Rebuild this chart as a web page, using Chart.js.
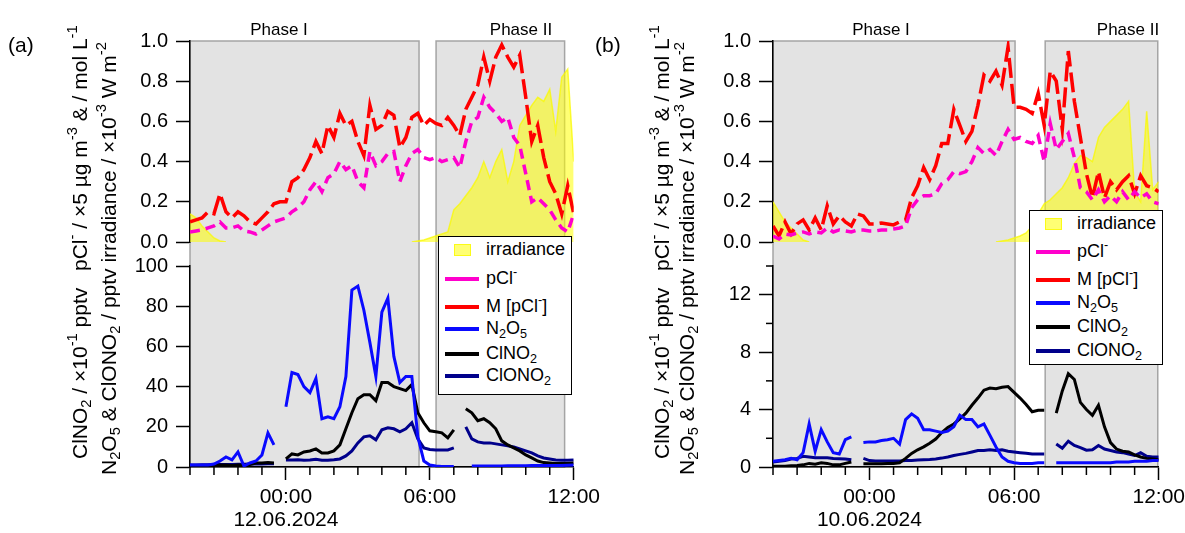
<!DOCTYPE html>
<html lang="en">
<head>
<meta charset="UTF-8">
<title>pCl, N2O5, ClNO2, ClONO2 time series</title>
<script src="https://cdn.jsdelivr.net/npm/chart.js"></script>
<style>
    body {
        margin: 0;
        width: 1185px;
        height: 533px;
        overflow: hidden;
        background: #fff;
        font-family: 'Liberation Sans', Arial, sans-serif;
        color: #000;
    }
    #wrap { position: relative; width: 1185px; height: 533px; overflow: hidden; }
    canvas { position: absolute; top: 0; }
    .txt { position: absolute; white-space: nowrap; }
    .rot {
        position: absolute;
        white-space: nowrap;
        font-size: 21px;
        line-height: 24px;
        transform-origin: 0 0;
        transform: rotate(-90deg);
    }
    sup { font-size: 0.7em; vertical-align: 0.65em; line-height: 0; }
    sub { font-size: 0.7em; vertical-align: -0.3em; line-height: 0; }
    .phase { font-size: 17px; line-height: 20px; transform: translateX(-50%); }
    .panel { font-size: 21px; line-height: 24px; }
    .legend {
        position: absolute;
        background: #fff;
        border: 1.5px solid #000;
        box-sizing: border-box;
        font-size: 18px;
    }
    .legend .row { position: absolute; height: 22px; line-height: 22px; white-space: nowrap; }
    .legend .mark { position: absolute; }
</style>
</head>
<body>
<div id="wrap">
    <canvas id="chartA" width="605" height="533" style="left:0"></canvas>
    <canvas id="chartB" width="600" height="533" style="left:590px"></canvas>
</div>

<script>
    // time axis: hours relative to 00:00 of the measurement day
    const hours = [-4, -3.75, -3.5, -3.25, -3, -2.75, -2.5, -2.25, -2, -1.75, -1.5, -1.25, -1, -0.75, -0.5, -0.25,
        0, 0.25, 0.5, 0.75, 1, 1.25, 1.5, 1.75, 2, 2.25, 2.5, 2.75, 3, 3.25, 3.5, 3.75,
        4, 4.25, 4.5, 4.75, 5, 5.25, 5.5, 5.75, 6, 6.25, 6.5, 6.75, 7, 7.25, 7.5, 7.75,
        8, 8.25, 8.5, 8.75, 9, 9.25, 9.5, 9.75, 10, 10.25, 10.5, 10.75, 11, 11.25, 11.5, 11.75, 12];

    // ---- panel (a), 12.06.2024 ----
    const aPcl = [0.05, 0.055, 0.06, 0.07, 0.08, 0.10, 0.07, 0.07, 0.08, 0.055,
        0.05, 0.04, 0.06, 0.08, 0.10, 0.11, 0.12, 0.15, 0.17, 0.20,
        0.26, 0.30, 0.25, 0.32, 0.34, 0.40, 0.36, 0.38, 0.30, 0.27,
        0.45, 0.38, 0.40, 0.44, 0.45, 0.30, 0.38, 0.44, 0.46, 0.42,
        0.41, 0.42, 0.40, 0.41, 0.42, 0.37, 0.50, 0.60, 0.62, 0.72,
        0.67, 0.64, 0.60, 0.62, 0.52, 0.48, 0.34, 0.20, 0.22, 0.19,
        0.16, 0.11, 0.07, 0.05, 0.14];
    const aMPcl = [0.10, 0.11, 0.12, 0.15, 0.14, 0.24, 0.15, 0.12, 0.15, 0.13,
        0.10, 0.09, 0.12, 0.15, 0.19, 0.20, 0.20, 0.30, 0.32, 0.36,
        0.42, 0.50, 0.44, 0.58, 0.52, 0.64, 0.58, 0.60, 0.50, 0.43,
        0.68, 0.56, 0.58, 0.65, 0.63, 0.47, 0.52, 0.62, 0.64, 0.58,
        0.61, 0.59, 0.58, 0.62, 0.58, 0.53, 0.66, 0.72, 0.78, 0.92,
        0.80, 0.92, 0.98, 0.92, 0.87, 0.93, 0.72, 0.50, 0.58, 0.42,
        0.30, 0.24, 0.14, 0.28, 0.14];
    const aIrr = [0.14, 0.12, 0.08, 0.05, 0.02, 0.005, 0,
        null, null, null, null, null, null, null, null, null, null,
        null, null, null, null, null, null, null, null, null, null,
        null, null, null, null, null, null, null, null, null, null,
        0, 0.005, 0.01, 0.02, 0.03, 0.04, 0.05, 0.16, 0.19, 0.23,
        0.27, 0.32, 0.40, 0.32, 0.40, 0.46, 0.30, 0.40, 0.58, 0.63,
        0.68, 0.72, 0.70, 0.76, 0.55, 0.82, 0.86, 0.40];
    const aN2O5 = [1, 1, 1, 1, 1.5, 3, 5, 3.5, 7.5, 0.5,
        2, 3, 6, 17, 11, null, 30, 47, 46, 40,
        37, 44, 24, 25, 24, 30, 45, 88, 90, 78,
        62, 45, 77, 84, 55, 42, 45, 45, 15, 3,
        1, 0.5, 0.3, 0.3, 0.3, null, null, 0.5, 0.5, 0.5,
        0.5, 0.5, 0.5, 0.6, 0.6, 0.6, 0.6, 0.7, 0.7, 0.7,
        0.8, 0.8, 0.8, 0.9, 1.0];
    const aClNO2 = [0.8, 0.8, 0.7, 0.8, 0.9, 1.0, 1.0, 0.8, 1.0, 1.0,
        1.2, 2, 2, 2.2, 2, null, 4, 6.5, 6, 7.5,
        8, 9, 7, 7, 8, 11, 19, 27, 34, 36,
        36, 33, 42, 42, 40, 39, 38, 41, 27, 22,
        18, 17.5, 17, 14.5, 18.5, null, 29, 27, 23, 24,
        22, 19, 13, 11, 9.5, 8, 6, 4.5, 3, 2.2,
        2, 1.7, 1.7, 1.8, 2];
    const aClONO2 = [1.0, 1.0, 1.1, 1.1, 1.2, 1.2, 1.3, 1.3, 1.4, 1.4,
        1.5, 1.5, 1.5, 1.6, 1.6, null, 3.5, 3.5, 3.6, 3.4,
        3.5, 3.8, 3.4, 3.3, 3.6, 4, 5.5, 8, 12, 15,
        15.5, 13.5, 18.5, 19.5, 19, 17.5, 19, 22, 14, 9.5,
        8.7, 8.5, 8.5, 8.5, 9.5, null, 20, 14, 12.5, 12,
        12, 11.5, 11, 10.5, 10, 9, 8, 7, 5.5, 4.5,
        4, 3.5, 3.3, 3.3, 3.5];
    const aPhases = [[-4, 5.55], [6.26, 11.62]];

    // ---- panel (b), 10.06.2024 ----
    const bPcl = [0.03, 0.015, 0.04, 0.035, 0.045, 0.05, 0.04, 0.05, 0.045, 0.07,
        0.05, 0.06, 0.055, 0.05, 0.06, 0.06, 0.055, 0.055, 0.06, 0.06,
        0.065, 0.07, 0.08, 0.17, 0.21, 0.23, 0.23, 0.24, 0.29, 0.31,
        0.35, 0.34, 0.35, 0.40, 0.47, 0.44, 0.46, 0.43, 0.50, 0.56,
        0.51, 0.52, 0.50, 0.49, 0.53, 0.40, 0.59, 0.46, 0.50, 0.54,
        0.42, 0.27, 0.25, 0.21, 0.26, 0.20, 0.23, 0.20, 0.25, 0.21,
        0.25, 0.22, 0.24, 0.20, 0.19];
    const bMPcl = [0.08, 0.03, 0.10, 0.04, 0.09, 0.11, 0.06, 0.12, 0.06, 0.18,
        0.09, 0.13, 0.10, 0.08, 0.14, 0.13, 0.09, 0.09, 0.095, 0.09,
        0.085, 0.10, 0.11, 0.22, 0.28, 0.37, 0.31, 0.38, 0.49, 0.49,
        0.66, 0.58, 0.50, 0.55, 0.68, 0.83, 0.80, 0.85, 0.78, 0.97,
        0.67, 0.67, 0.66, 0.64, 0.74, 0.58, 0.85, 0.80, 0.56, 0.95,
        0.70, 0.52, 0.34, 0.22, 0.35, 0.22, 0.30, 0.26, 0.30, 0.33,
        0.24, 0.33, 0.28, 0.27, 0.25];
    const bIrr = [0.20, 0.15, 0.10, 0.07, 0.04, 0.01, 0,
        null, null, null, null, null, null, null, null, null, null,
        null, null, null, null, null, null, null, null, null, null,
        null, null, null, null, null, null, null, null, null, null,
        0, 0.005, 0.01, 0.02, 0.03, 0.045, 0.08, 0.14, 0.19, 0.21,
        0.24, 0.27, 0.32, 0.39, 0.43, 0.42, 0.40, 0.52, 0.57, 0.60,
        0.63, 0.66, 0.70, 0.25, 0.20, 0.65, 0.26, 0.30];
    const bN2O5 = [0.4, 0.45, 0.5, 0.6, 0.5, 1.0, 3.0, 1.1, 2.6, 1.75,
        1.0, 0.9, 1.9, 2.1, null, 1.7, 1.75, 1.75, 1.85, 1.9,
        2.0, 1.6, 3.3, 3.7, 3.4, 2.6, 2.6, 2.5, 2.4, 2.5,
        2.8, 3.6, 3.3, 3.3, 2.8, 3.0, 2.2, 1.4, 0.7, 0.4,
        0.3, 0.25, 0.25, 0.25, 0.3, 0.3, null, 0.3, 0.3, 0.3,
        0.3, 0.3, 0.3, 0.3, 0.3, 0.3, 0.3, 0.35, 0.35, 0.35,
        0.4, 0.4, 0.4, 0.45, 0.45];
    const bClNO2 = [0.05, 0.05, 0.05, 0.08, 0.1, 0.15, 0.25, 0.2, 0.3, 0.25,
        0.15, 0.15, 0.25, 0.35, null, 0.23, 0.23, 0.23, 0.23, 0.25,
        0.25, 0.3, 0.6, 0.95, 1.2, 1.4, 1.65, 1.95, 2.4, 2.75,
        3.0, 3.35, 3.75, 4.3, 4.8, 5.35, 5.5, 5.45, 5.55, 5.6,
        5.2, 4.8, 4.35, 3.85, 3.95, 3.95, null, 3.75, 5.3, 6.5,
        6.1, 4.5, 4.0, 3.6, 4.3, 2.8, 1.7, 1.25, 1.1, 1.05,
        0.85, 0.7, 0.6, 0.55, 0.5];
    const bClONO2 = [0.35, 0.4, 0.45, 0.55, 0.6, 0.75, 0.7, 0.65, 0.65, 0.65,
        0.6, 0.58, 0.55, 0.5, null, 0.6, 0.45, 0.42, 0.42, 0.42,
        0.42, 0.42, 0.45, 0.45, 0.48, 0.5, 0.52, 0.55, 0.62, 0.7,
        0.8, 0.88, 0.95, 1.05, 1.15, 1.15, 1.2, 1.15, 1.2, 1.1,
        1.05, 1.0, 0.95, 0.9, 0.9, 0.9, null, 1.6, 1.3, 1.8,
        1.5, 1.35, 1.17, 1.2, 1.5, 1.25, 1.15, 1.05, 1.0, 0.9,
        0.8, 1.0, 0.75, 0.7, 0.7];
    const bPhases = [[-4, 6.04], [7.29, 11.96]];

    const colors = {
        pcl: '#ff00cc', mpcl: '#ff0000', n2o5: '#0a0aff', clno2: '#000000', clono2: '#00008b',
        irr: 'rgba(255,255,0,0.55)', irrLine: 'rgba(250,250,0,0.75)'
    };

    Chart.defaults.font.family = "'Liberation Sans', Arial, sans-serif";
    Chart.defaults.color = '#000';

    // grey phase boxes behind everything
    const phasePlugin = {
        id: 'phases',
        beforeDraw(chart, args, opts) {
            const {ctx, chartArea, scales} = chart;
            ctx.save();
            opts.spans.forEach(([a, b]) => {
                const x0 = scales.x.getPixelForValue(a);
                const x1 = scales.x.getPixelForValue(b);
                ctx.fillStyle = '#e3e3e3';
                ctx.fillRect(x0, chartArea.top, x1 - x0, chartArea.bottom - chartArea.top);
                ctx.strokeStyle = '#a5a5a5';
                ctx.lineWidth = 1.5;
                ctx.strokeRect(x0, chartArea.top, x1 - x0, chartArea.bottom - chartArea.top);
            });
            ctx.restore();
        }
    };

    // short minor ticks (hours on x, unlabelled values on the lower y axis)
    const minorTickPlugin = {
        id: 'minorTicks',
        afterDraw(chart, args, opts) {
            const {ctx, scales} = chart;
            ctx.save();
            ctx.strokeStyle = '#000';
            ctx.lineWidth = 1.5;
            scales.x.ticks.forEach(t => {
                if (t.value % 6 === 0) return;
                const px = scales.x.getPixelForValue(t.value);
                ctx.beginPath();
                ctx.moveTo(px, scales.x.top);
                ctx.lineTo(px, scales.x.top + 8);
                ctx.stroke();
            });
            if (opts.yStep) {
                const y = scales.yBot;
                y.ticks.forEach(t => {
                    if (t.value % opts.yStep === 0) return;
                    const py = y.getPixelForValue(t.value);
                    ctx.beginPath();
                    ctx.moveTo(y.right - 7, py);
                    ctx.lineTo(y.right, py);
                    ctx.stroke();
                });
            }
            ctx.restore();
        }
    };

    function series(label, vals, color, axis, extra) {
        return Object.assign({
            label: label,
            data: vals.map((v, i) => ({x: hours[i], y: v})),
            borderColor: color,
            backgroundColor: color,
            borderWidth: 3,
            pointRadius: 0,
            tension: 0,
            fill: false,
            spanGaps: false,
            yAxisID: axis
        }, extra || {});
    }

    function yAxis(opts) {
        return Object.assign({
            type: 'linear',
            position: 'left',
            stack: 'left',
            afterFit: s => { s.width = 60; },
            border: {display: true, color: '#000', width: 1.5},
            grid: {drawOnChartArea: false, tickLength: 14, tickWidth: 1.5, tickColor: '#000'},
            ticks: {color: '#000', font: {size: 20}, padding: 8, autoSkip: false}
        }, opts);
    }

    function makePanel(id, d) {
        return new Chart(document.getElementById(id), {
            type: 'line',
            data: {
                datasets: [
                    series('pCl-', d.pcl, colors.pcl, 'yTop', {borderWidth: 3.5, borderDash: [10, 6]}),
                    series('M [pCl-]', d.mpcl, colors.mpcl, 'yTop', {borderWidth: 3.5, borderDash: [20, 6]}),
                    series('N2O5', d.n2o5, colors.n2o5, 'yBot'),
                    series('ClNO2', d.clno2, colors.clno2, 'yBot'),
                    series('ClONO2', d.clono2, colors.clono2, 'yBot'),
                    series('irradiance', d.irr, colors.irrLine, 'yTop', {
                        borderWidth: 1.5, fill: 'origin', backgroundColor: colors.irr
                    })
                ]
            },
            options: {
                responsive: false,
                animation: false,
                events: [],
                layout: {padding: {left: d.padLeft, right: 28, top: 41, bottom: 6}},
                plugins: {
                    legend: {display: false},
                    tooltip: {enabled: false},
                    phases: {spans: d.phases},
                    minorTicks: {yStep: d.yLabelStep}
                },
                scales: {
                    x: {
                        type: 'linear',
                        min: -4,
                        max: 12,
                        afterFit: s => { s.height = 60; },
                        border: {display: true, color: '#000', width: 1.5},
                        grid: {
                            drawOnChartArea: false,
                            tickLength: 13,
                            tickWidth: 1.5,
                            tickColor: c => (c.tick && c.tick.value % 6 === 0) ? '#000' : 'rgba(0,0,0,0)'
                        },
                        ticks: {
                            stepSize: 1,
                            autoSkip: false,
                            maxRotation: 0,
                            color: '#000',
                            padding: 5,
                            font: {size: 21, lineHeight: 1.12},
                            callback: v => {
                                if (v === 0) return ['00:00', d.date];
                                if (v % 6 === 0) return String(v).padStart(2, '0') + ':00';
                                return '';
                            }
                        }
                    },
                    yBot: yAxis({
                        min: 0,
                        max: d.yMax,
                        stackWeight: 201,
                        ticks: {
                            color: '#000', font: {size: 20}, padding: 8, autoSkip: false,
                            stepSize: d.yStep,
                            callback: v => (v % d.yLabelStep === 0 ? String(v) : '')
                        },
                        grid: {
                            drawOnChartArea: false, tickLength: 14, tickWidth: 1.5,
                            tickColor: c => (c.tick && c.tick.value % d.yLabelStep === 0) ? '#000' : 'rgba(0,0,0,0)'
                        }
                    }),
                    yGap: {
                        type: 'linear',
                        position: 'left',
                        stack: 'left',
                        stackWeight: 24,
                        min: 0,
                        max: 1,
                        afterFit: s => { s.width = 60; },
                        ticks: {display: false},
                        grid: {display: false},
                        border: {display: false}
                    },
                    yTop: yAxis({
                        min: 0,
                        max: 1,
                        stackWeight: 201,
                        ticks: {
                            color: '#000', font: {size: 20}, padding: 8, autoSkip: false,
                            stepSize: 0.2,
                            callback: v => v.toFixed(1)
                        }
                    })
                }
            },
            plugins: [phasePlugin, minorTickPlugin]
        });
    }

    makePanel('chartA', {
        pcl: aPcl, mpcl: aMPcl, irr: aIrr, n2o5: aN2O5, clno2: aClNO2, clono2: aClONO2,
        phases: aPhases, date: '12.06.2024', yMax: 100, yStep: 20, yLabelStep: 20, padLeft: 130
    });
    makePanel('chartB', {
        pcl: bPcl, mpcl: bMPcl, irr: bIrr, n2o5: bN2O5, clno2: bClNO2, clono2: bClONO2,
        phases: bPhases, date: '10.06.2024', yMax: 14, yStep: 2, yLabelStep: 4, padLeft: 123
    });

    // ---- text overlays: panel letters, phase names, axis titles, legends ----
    const wrap = document.getElementById('wrap');
    function addText(cls, html, left, top) {
        const el = document.createElement('div');
        el.className = cls;
        el.innerHTML = html;
        el.style.left = left + 'px';
        el.style.top = top + 'px';
        wrap.appendChild(el);
        return el;
    }

    const titleLow1 = 'ClNO<sub>2</sub> / ×10<sup>-1</sup> pptv';
    const titleTop1 = 'pCl<sup>-</sup> / ×5 µg m<sup>-3</sup> &amp; / mol L<sup>-1</sup>';
    const title2 = 'N<sub>2</sub>O<sub>5</sub> &amp; ClONO<sub>2</sub> / pptv irradiance / ×10<sup>-3</sup> W m<sup>-2</sup>';

    [[0, 'a'], [582, 'b']].forEach(([dx, letter]) => {
        addText('txt panel', '(' + letter + ')', 8 + dx + (letter === 'b' ? 5 : 0), 33);
        addText('rot', titleLow1, 67.5 + dx, 459);
        addText('rot', titleTop1, 67.5 + dx, 271);
        addText('rot', title2, 96.5 + dx - (letter === 'b' ? 4 : 0), 475);
    });

    addText('txt phase', 'Phase I', 279, 20);
    addText('txt phase', 'Phase II', 521, 20);
    addText('txt phase', 'Phase I', 881, 20);
    addText('txt phase', 'Phase II', 1128, 20);

    const legendLabels = [
        'irradiance', 'pCl<sup>-</sup>', 'M [pCl<sup>-</sup>]',
        'N<sub>2</sub>O<sub>5</sub>', 'ClNO<sub>2</sub>', 'ClONO<sub>2</sub>'
    ];
    const legendColors = [colors.irr, colors.pcl, colors.mpcl, colors.n2o5, colors.clno2, colors.clono2];

    function addLegend(left, top, width, height, rowCenters) {
        const box = document.createElement('div');
        box.className = 'legend';
        Object.assign(box.style, {left: left + 'px', top: top + 'px', width: width + 'px', height: height + 'px'});
        legendLabels.forEach((lab, i) => {
            const cy = rowCenters[i];
            const mark = document.createElement('div');
            mark.className = 'mark';
            if (i === 0) {
                Object.assign(mark.style, {
                    left: '15px', top: (cy - 6) + 'px', width: '15px', height: '10px',
                    background: legendColors[0], border: '1px solid rgba(250,250,0,0.8)'
                });
            } else {
                Object.assign(mark.style, {
                    left: '6px', top: (cy - 2) + 'px', width: '34px', height: '3.5px',
                    background: legendColors[i]
                });
            }
            box.appendChild(mark);
            const row = document.createElement('div');
            row.className = 'row';
            row.innerHTML = lab;
            row.style.left = '47px';
            row.style.top = (cy - 12) + 'px';
            box.appendChild(row);
        });
        wrap.appendChild(box);
    }

    addLegend(438, 236, 134, 159, [13, 42, 70, 92, 117, 139]);
    addLegend(1029, 210, 134, 155, [13, 41, 69, 92, 116, 140]);
</script>
</body>
</html>
